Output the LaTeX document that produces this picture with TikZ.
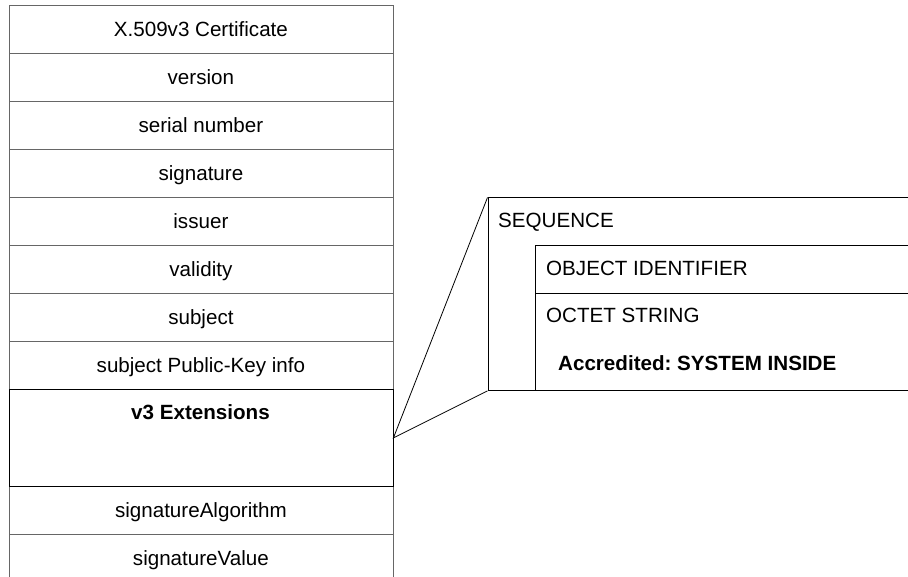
\documentclass[tikz,border=0pt]{standalone}
\usepackage{fontspec}
\setmainfont{Liberation Sans}
\frenchspacing
\begin{document}
\begin{tikzpicture}[x=1pt,y=-1pt,
  txt/.style={font=\fontsize{20.6}{24}\selectfont, inner sep=0pt, text height=15pt, text depth=0pt},
  row/.style={draw=black!60, line width=0.8pt, minimum width=384pt, minimum height=48pt,
    anchor=north west, inner sep=0pt, txt},
  bigrow/.style={draw=black, line width=0.9pt, minimum width=384pt, minimum height=97pt,
    anchor=north west, inner sep=0pt},
  asnbox/.style={draw=black, line width=0.9pt, anchor=north west, inner sep=0pt},
  lbl/.style={txt, anchor=west},
  conn/.style={draw=black, line width=0.8pt}]
\useasboundingbox (0,0) rectangle (908,577);
\clip (0,0) rectangle (908,577);
\node[row] (cert) at (8.5,5) {X.509v3 Certificate};
\node[row] (ver) at (8.5,53) {version};
\node[row] (ser) at (8.5,101) {serial number};
\node[row] (sig) at (8.5,149) {signature};
\node[row] (iss) at (8.5,197) {issuer};
\node[row] (val) at (8.5,245) {validity};
\node[row] (subj) at (8.5,293) {subject};
\node[row] (spki) at (8.5,341) {subject Public-Key info};
\node[row] (salg) at (8.5,486) {signatureAlgorithm};
\node[row] (sval) at (8.5,534) {signatureValue};
\node[bigrow] (v3) at (8.5,389) {};
\node[txt, font=\fontsize{20.6}{24}\selectfont\bfseries] (v3t) at (200.5,412) {v3 Extensions};
% right structure
\node[asnbox, minimum width=450pt, minimum height=192.5pt] (seq) at (487.5,197.5) {};
\node[lbl] (seqt) at (498,220) {SEQUENCE};
\node[asnbox, minimum width=400pt, minimum height=48pt] (oid) at (534.5,245.5) {};
\node[lbl] (oidt) at (546,268) {OBJECT IDENTIFIER};
\node[asnbox, minimum width=400pt, minimum height=96.5pt] (oct) at (534.5,293.5) {};
\node[lbl] (octt) at (546,315) {OCTET STRING};
\node[lbl, font=\fontsize{20.6}{24}\selectfont\bfseries] (acc) at (558,363) {Accredited: SYSTEM INSIDE};
\draw[conn] (seq.north west) -- (v3.east) -- (seq.south west);
\end{tikzpicture}
\end{document}
